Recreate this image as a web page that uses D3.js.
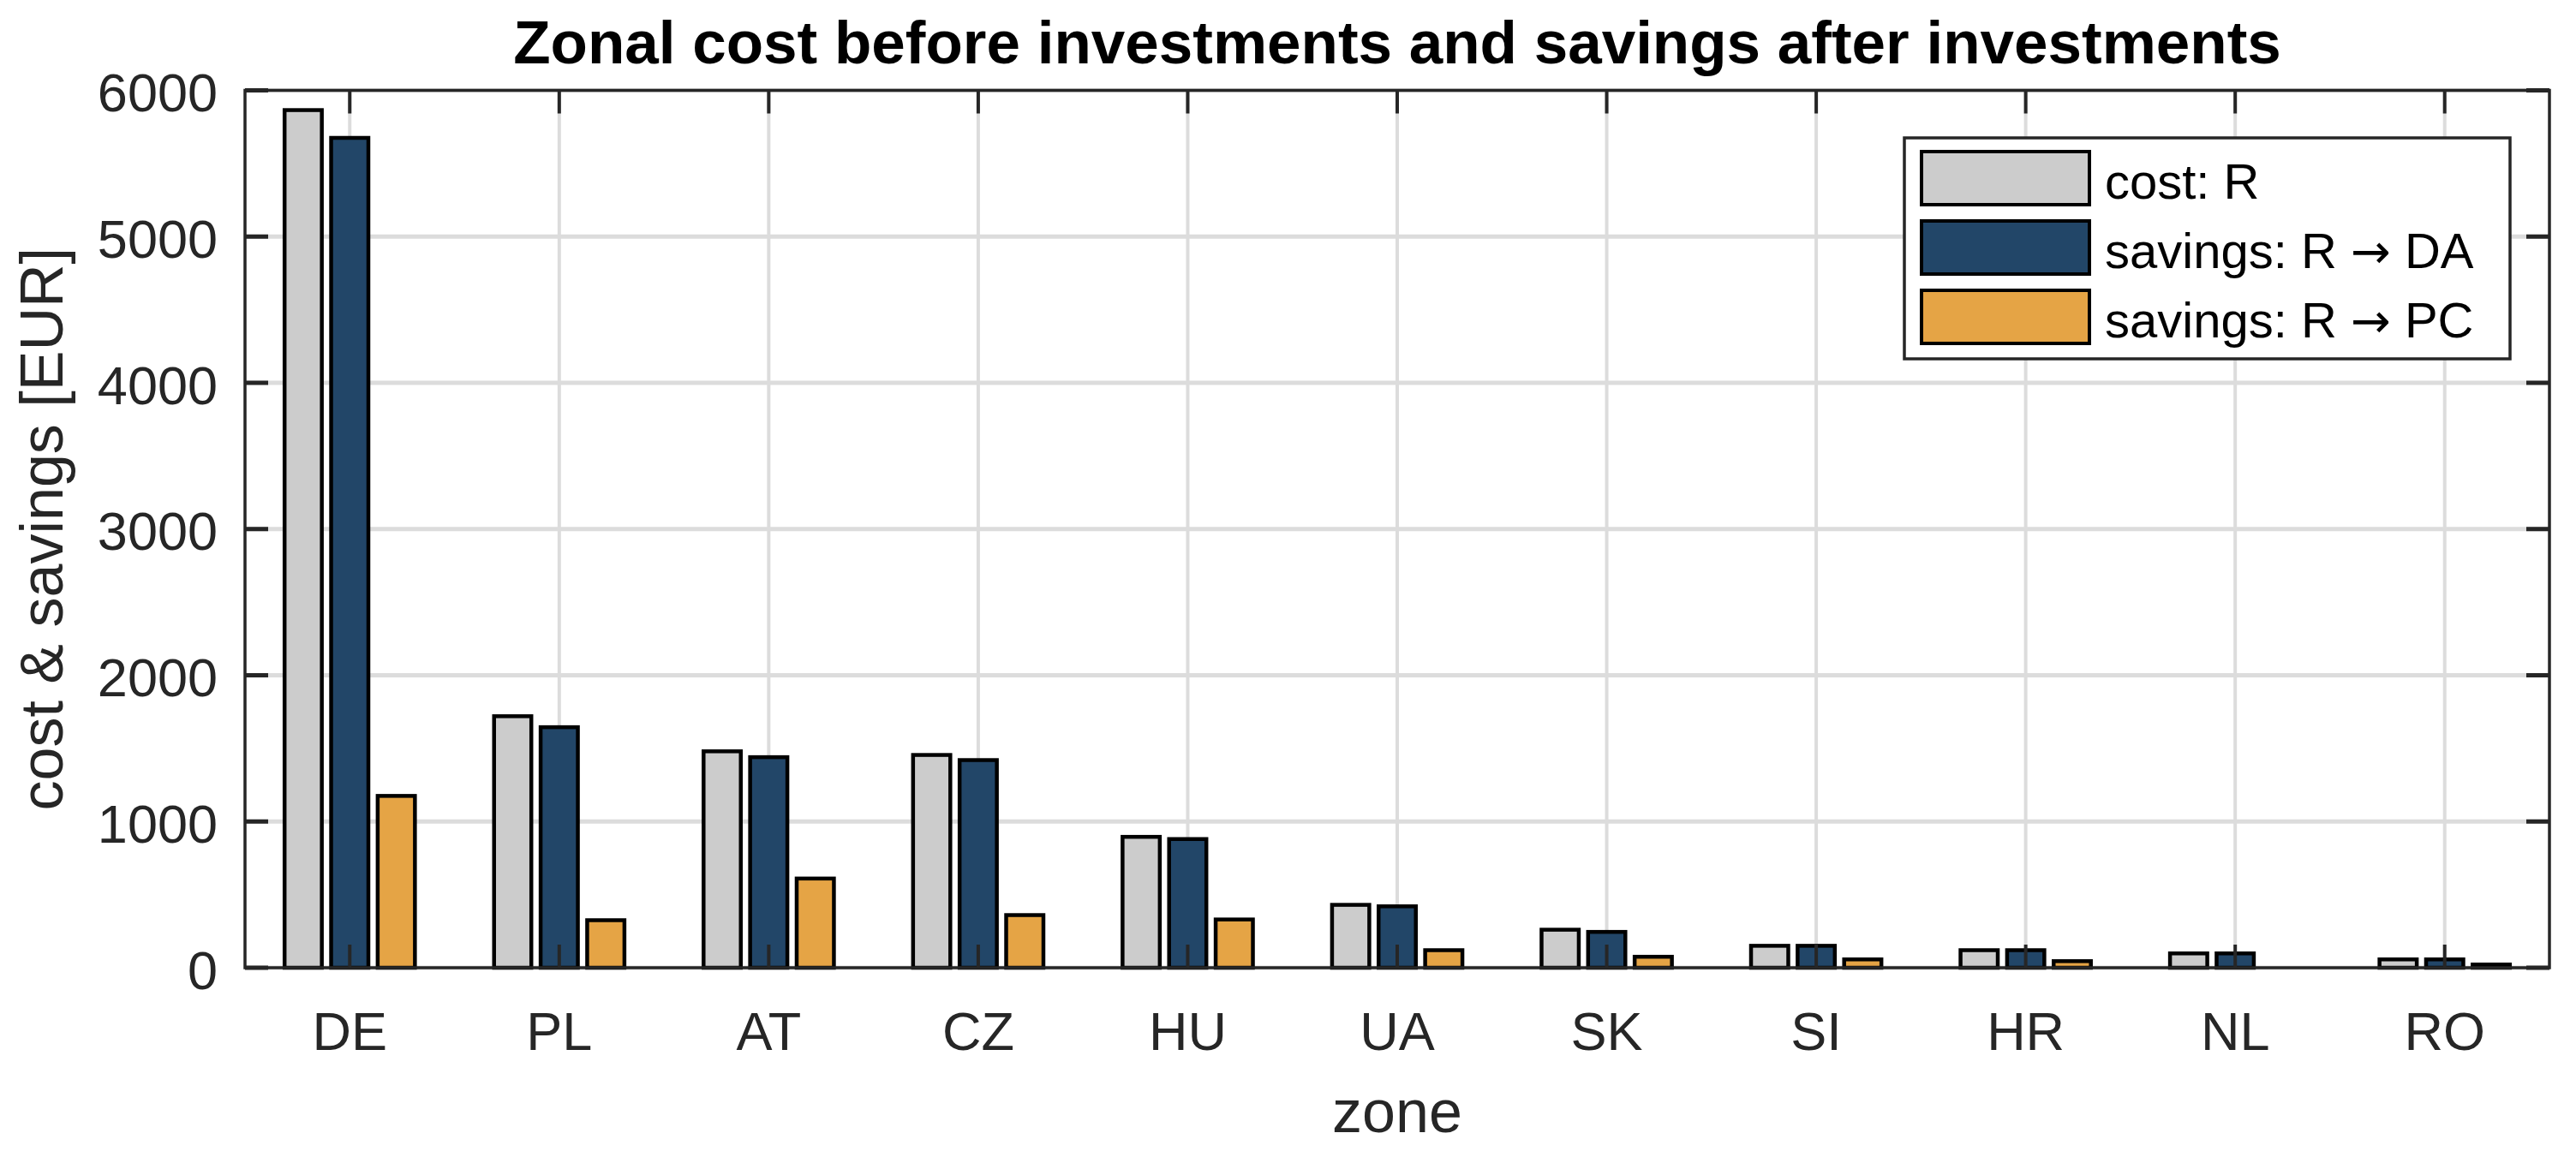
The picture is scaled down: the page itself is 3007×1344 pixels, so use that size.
<!DOCTYPE html>
<html>
<head>
<meta charset="utf-8">
<script src="https://cdn.jsdelivr.net/npm/d3@7"></script>
<style>
  html, body { margin: 0; padding: 0; background: #ffffff; }
  svg { display: block; }
  text { font-family: "Liberation Sans", Arial, Helvetica, sans-serif; }
</style>
</head>
<body>
<script>
// ---------------- data ----------------
const categories = ["DE", "PL", "AT", "CZ", "HU", "UA", "SK", "SI", "HR", "NL", "RO"];
const costR      = [5865, 1720, 1480, 1455, 895, 430, 260, 150, 120, 98, 57];
const savingsDA  = [5675, 1645, 1440, 1420, 880, 420, 245, 150, 120, 98, 57];
const savingsPC  = [1175, 325, 610, 360, 330, 120, 75, 57, 45, 0, 22];
const seriesNames = ["cost: R", "savings: R \u2192 DA", "savings: R \u2192 PC"];
const yTicks = [0, 1000, 2000, 3000, 4000, 5000, 6000];
const titleText = "Zonal cost before investments and savings after investments";
const xLabel = "zone";
const yLabel = "cost & savings [EUR]";

// ---------------- layout / style ----------------
const W = 3007, H = 1344;
const plot = { left: 286, right: 2976, top: 105.5, bottom: 1130 };
const colors = ["#cccccc", "#224668", "#e5a445"];
const axisColor = "#262626";
const gridColor = "#dcdcdc";

const seriesValues = [costR, savingsDA, savingsPC];
const rows = categories.map((c, i) => ({ cat: c, vals: seriesValues.map(s => s[i]) }));

const svg = d3.select("body").append("svg")
  .attr("width", W).attr("height", H)
  .attr("viewBox", `0 0 ${W} ${H}`);

const x0 = d3.scaleBand().domain(categories)
  .range([plot.left, plot.right]).paddingInner(0).paddingOuter(0);
const bw = x0.bandwidth();
const x1 = d3.scaleBand().domain(d3.range(seriesNames.length))
  .range([0, bw * 2 / 3]).paddingInner(0.2).paddingOuter(0.1);
const y = d3.scaleLinear().domain([0, 6000]).range([plot.bottom, plot.top]);

// ---------------- grid ----------------
const grid = svg.append("g");
grid.selectAll("line.hg").data(yTicks).join("line")
  .attr("x1", plot.left).attr("x2", plot.right)
  .attr("y1", d => y(d)).attr("y2", d => y(d))
  .attr("stroke", gridColor).attr("stroke-width", 5);
grid.selectAll("line.vg").data(categories).join("line")
  .attr("x1", d => x0(d) + bw / 2).attr("x2", d => x0(d) + bw / 2)
  .attr("y1", plot.top).attr("y2", plot.bottom)
  .attr("stroke", gridColor).attr("stroke-width", 4);

// ---------------- bars ----------------
const groups = svg.append("g").selectAll("g").data(rows).join("g")
  .attr("transform", d => `translate(${x0(d.cat) + bw / 2 - bw / 3},0)`);
groups.selectAll("rect").data(d => d.vals.map((v, j) => ({ v, j }))).join("rect")
  .attr("x", d => x1(d.j))
  .attr("width", x1.bandwidth())
  .attr("y", d => y(d.v))
  .attr("height", d => y(0) - y(d.v))
  .attr("fill", d => colors[d.j])
  .attr("stroke", "#000")
  .attr("stroke-width", 4.5);

// ---------------- axes box + ticks ----------------
const ax = svg.append("g");
const tickLen = 27;
ax.append("rect")
  .attr("x", plot.left).attr("y", plot.top)
  .attr("width", plot.right - plot.left).attr("height", plot.bottom - plot.top)
  .attr("fill", "none").attr("stroke", axisColor).attr("stroke-width", 3.5);

// y ticks both sides
ax.selectAll("line.yl").data(yTicks).join("line")
  .attr("x1", plot.left).attr("x2", plot.left + tickLen)
  .attr("y1", d => y(d)).attr("y2", d => y(d))
  .attr("stroke", axisColor).attr("stroke-width", 5);
ax.selectAll("line.yr").data(yTicks).join("line")
  .attr("x1", plot.right).attr("x2", plot.right - tickLen)
  .attr("y1", d => y(d)).attr("y2", d => y(d))
  .attr("stroke", axisColor).attr("stroke-width", 5);
// x ticks top and bottom
ax.selectAll("line.xb").data(categories).join("line")
  .attr("x1", d => x0(d) + bw / 2).attr("x2", d => x0(d) + bw / 2)
  .attr("y1", plot.bottom).attr("y2", plot.bottom - tickLen)
  .attr("stroke", axisColor).attr("stroke-width", 4);
ax.selectAll("line.xt").data(categories).join("line")
  .attr("x1", d => x0(d) + bw / 2).attr("x2", d => x0(d) + bw / 2)
  .attr("y1", plot.top).attr("y2", plot.top + tickLen)
  .attr("stroke", axisColor).attr("stroke-width", 4);

// tick labels
ax.selectAll("text.yt").data(yTicks).join("text")
  .attr("x", 254).attr("y", d => y(d))
  .attr("dy", "0.39em")
  .attr("text-anchor", "end")
  .attr("font-size", 63).attr("fill", axisColor)
  .text(d => d);
ax.selectAll("text.xt").data(categories).join("text")
  .attr("x", d => x0(d) + bw / 2).attr("y", 1226)
  .attr("text-anchor", "middle")
  .attr("font-size", 63).attr("fill", axisColor)
  .text(d => d);

// axis labels
svg.append("text")
  .attr("x", (plot.left + plot.right) / 2).attr("y", 1322)
  .attr("text-anchor", "middle").attr("font-size", 70).attr("fill", axisColor)
  .text(xLabel);
svg.append("text")
  .attr("transform", `translate(73,${(plot.top + plot.bottom) / 2}) rotate(-90)`)
  .attr("text-anchor", "middle").attr("font-size", 70).attr("fill", axisColor)
  .text(yLabel);

// title
svg.append("text")
  .attr("x", (plot.left + plot.right) / 2).attr("y", 74)
  .attr("text-anchor", "middle").attr("font-size", 71).attr("font-weight", "bold")
  .attr("fill", "#000")
  .text(titleText);

// ---------------- legend ----------------
const lg = svg.append("g");
lg.append("rect")
  .attr("x", 2223).attr("y", 161).attr("width", 707).attr("height", 258)
  .attr("fill", "#fff").attr("stroke", axisColor).attr("stroke-width", 3.5);
const items = lg.selectAll("g.item").data(seriesNames).join("g")
  .attr("transform", (d, i) => `translate(0,${208 + i * 81})`);
items.append("rect")
  .attr("x", 2243).attr("y", -31).attr("width", 196).attr("height", 62)
  .attr("fill", (d, i) => colors[i]).attr("stroke", "#000").attr("stroke-width", 4);
const lt = items.append("text")
  .attr("x", 2457).attr("y", 24)
  .attr("font-size", 58).attr("fill", "#000");
lt.each(function(d) {
  const t = d3.select(this);
  const parts = d.split("\u2192");
  parts.forEach((p, k) => {
    if (k > 0) {
      t.append("tspan").attr("font-family", "DejaVu Sans").attr("font-size", 56).text("\u2192");
    }
    t.append("tspan").text(p);
  });
});
</script>
</body>
</html>
